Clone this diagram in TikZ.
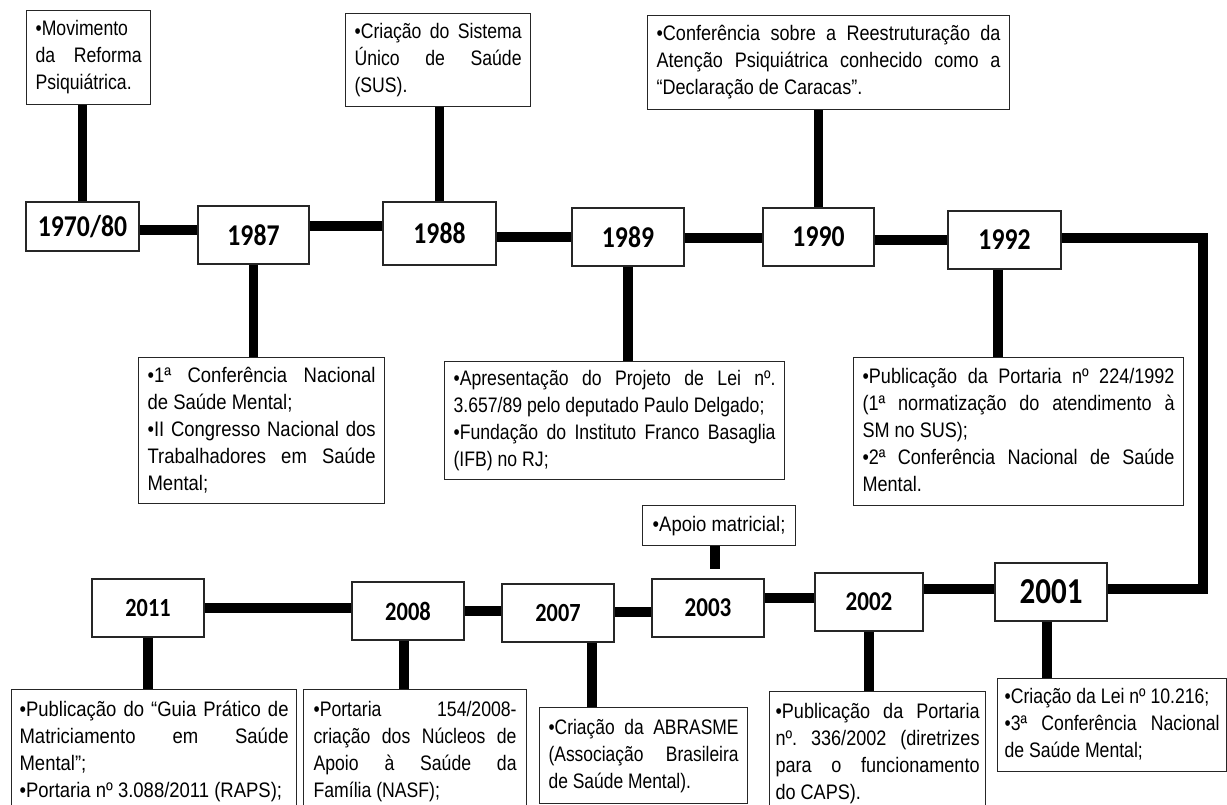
\documentclass[tikz,border=0pt]{standalone}
\usepackage{fontspec}
\setmainfont{Liberation Sans}
\newfontfamily\fa{Liberation Sans}[FakeStretch=0.83]
\newfontfamily\fb{Liberation Sans}[FakeStretch=0.84]
\newfontfamily\fc{Liberation Sans}[FakeStretch=0.86]
\newfontfamily\fd{Liberation Sans}[FakeStretch=0.88]
\newfontfamily\yearfont{Carlito}[FakeStretch=0.85]
\setlength{\parindent}{0pt}
\frenchspacing
\newcommand\tsz{\fontsize{21pt}{27pt}\selectfont}
% justified line (full width) and free line
\newcommand\J[1]{\hbox to \hsize{\spaceskip=\fontdimen2\font plus 1fil\relax\xspaceskip=\spaceskip\strut#1}}
\newcommand\lastl[1]{\hbox{\strut#1}}
\tikzset{
  tbox/.style={draw=black!85, line width=1.2pt, fill=white, anchor=north west, inner ysep=0pt},
  ybox/.style={draw=black!85, line width=1.3pt, fill=white, inner sep=0pt, minimum width=112pt, minimum height=58pt},
  ytop/.style={font=\yearfont\bfseries\fontsize{30.2pt}{32pt}\selectfont},
  conn/.style={line width=9.5pt, draw=black},
}
\begin{document}
\begin{tikzpicture}[x=1pt,y=-1pt]
\fill[white] (0,0) rectangle (1227,805);
\useasboundingbox (0,0) rectangle (1227,805);
\clip (0,0) rectangle (1227,805);

% year boxes, top row
\node[ybox, ytop, minimum width=113pt, minimum height=49pt] (y70) at (82.5,226.5) {1970/80};
\node[ybox, ytop, minimum width=111pt] (y87) at (253.5,235) {1987};
\node[ybox, ytop, minimum width=113pt, minimum height=63pt] (y88) at (439.5,233.5) {1988};
\node[ybox, ytop] (y89) at (628,237) {1989};
\node[ybox, ytop, minimum width=111pt] (y90) at (818.5,237) {1990};
\node[ybox, ytop, minimum width=113pt] (y92) at (1004.5,240) {1992};

% year boxes, bottom row
\node[ybox, font=\yearfont\bfseries\fontsize{36.5pt}{38pt}\selectfont] (y01) at (1051,592) {2001};
\node[ybox, minimum width=108pt, font=\yearfont\bfseries\fontsize{27.2pt}{29pt}\selectfont] (y02) at (869,602) {2002};
\node[ybox, font=\yearfont\bfseries\fontsize{27.2pt}{29pt}\selectfont] (y03) at (708,608) {2003};
\node[ybox, font=\yearfont\bfseries\fontsize{26.2pt}{28pt}\selectfont] (y07) at (558,613) {2007};
\node[ybox, font=\yearfont\bfseries\fontsize{26.5pt}{28pt}\selectfont] (y08) at (408,611) {2008};
\node[ybox, font=\yearfont\bfseries\fontsize{26.2pt}{28pt}\selectfont] (y11) at (148,608) {2011};

% text boxes
\node[tbox, inner xsep=9pt, minimum height=94pt, font=\fb\tsz] (t1) at (26,10)
  {\parbox{106pt}{\lastl{•Movimento}\J{da Reforma}\lastl{Psiquiátrica.}}};
\node[tbox, inner xsep=9pt, minimum height=93pt, font=\fb\tsz] (t2) at (345,13)
  {\parbox{167pt}{\J{•Criação do Sistema}\J{Único de Saúde}\lastl{(SUS).}}};
\node[tbox, inner xsep=9pt, minimum height=94pt, font=\fc\tsz] (t3) at (647,15)
  {\parbox{344pt}{\J{•Conferência sobre a Reestruturação da}\J{Atenção Psiquiátrica conhecido como a}\lastl{“Declaração de Caracas”.}}};
\node[tbox, inner xsep=9pt, minimum height=146pt, font=\fd\tsz] (t4) at (138,357)
  {\parbox{228pt}{\J{•1ª Conferência Nacional}\lastl{de Saúde Mental;}\J{•II Congresso Nacional dos}\J{Trabalhadores em Saúde}\lastl{Mental;}}};
\node[tbox, inner xsep=9pt, minimum height=118pt, font=\fb\tsz] (t5) at (444,361)
  {\parbox{322pt}{\J{•Apresentação do Projeto de Lei nº.}\lastl{3.657/89 pelo deputado Paulo Delgado;}\J{•Fundação do Instituto Franco Basaglia}\lastl{(IFB) no RJ;}}};
\node[tbox, inner xsep=9pt, minimum height=148pt, font=\fc\tsz] (t6) at (853,357)
  {\parbox{312pt}{\J{•Publicação da Portaria nº 224/1992}\J{(1ª normatização do atendimento à}\lastl{SM no SUS);}\J{•2ª Conferência Nacional de Saúde}\lastl{Mental.}}};
\node[tbox, inner xsep=8pt, minimum width=153pt, minimum height=40pt, font=\fd\tsz] (t7) at (642,505)
  {\lastl{•Apoio matricial;}};
\node[tbox, inner xsep=8pt, minimum height=124pt, font=\fd\tsz] (t8) at (11,689)
  {\parbox{269pt}{\J{•Publicação do “Guia Prático de}\J{Matriciamento em Saúde}\lastl{Mental”;}\lastl{•Portaria nº 3.088/2011 (RAPS);}}};
\node[tbox, inner xsep=10pt, minimum height=124pt, font=\fb\tsz] (t9) at (303,689)
  {\parbox{203pt}{\J{•Portaria 154/2008-}\J{criação dos Núcleos de}\J{Apoio à Saúde da}\lastl{Família (NASF);}}};
\node[tbox, inner xsep=9pt, minimum height=96pt, font=\fa\tsz] (t10) at (539,707)
  {\parbox{190pt}{\J{•Criação da ABRASME}\J{(Associação Brasileira}\lastl{de Saúde Mental).}}};
\node[tbox, inner xsep=6pt, minimum height=124pt, font=\fc\tsz] (t11) at (769,691)
  {\parbox{204pt}{\J{•Publicação da Portaria}\J{nº. 336/2002 (diretrizes}\J{para o funcionamento}\lastl{do CAPS).}}};
\node[tbox, inner xsep=7pt, minimum height=93pt, font=\fb\tsz] (t12) at (997,678)
  {\parbox{215pt}{\lastl{•Criação da Lei nº 10.216;}\J{•3ª Conferência Nacional}\lastl{de Saúde Mental;}}};

% horizontal timeline connectors
\draw[conn] (y70.east |- 0,230) -- (y87.west |- 0,230);
\draw[conn] (y87.east |- 0,226) -- (y88.west |- 0,226);
\draw[conn] (y88.east |- 0,237) -- (y89.west |- 0,237);
\draw[conn] (y89.east |- 0,238) -- (y90.west |- 0,238);
\draw[conn] (y90.east |- 0,240) -- (y92.west |- 0,240);
\coordinate (c1) at (1203,238);
\coordinate (c2) at (1203,589);
\draw[conn] (y92.east |- c1) -- (c1) -- (c2) -- (y01.east |- c2);
\draw[conn] (y01.west |- 0,589) -- (y02.east |- 0,589);
\draw[conn] (y02.west |- 0,598) -- (y03.east |- 0,598);
\draw[conn] (y03.west |- 0,612) -- (y07.east |- 0,612);
\draw[conn] (y07.west |- 0,611) -- (y08.east |- 0,611);
\draw[conn] (y08.west |- 0,608) -- (y11.east |- 0,608);

% vertical connectors to text boxes
\draw[conn] (t1.south -| y70.north) -- (y70.north);
\draw[conn] (t2.south -| y88.north) -- (y88.north);
\draw[conn] (t3.south -| y90.north) -- (y90.north);
\draw[conn] (y87.south) -- (y87.south |- t4.north);
\draw[conn] (y89.south) -- (y89.south |- t5.north);
\coordinate (a92) at ([xshift=-6.5pt]y92.south);
\draw[conn] (a92) -- (a92 |- t6.north);
\coordinate (a03) at ([xshift=7pt]y03.north);
\draw[conn, shorten >=9pt] (a03 |- t7.south) -- (a03);
\draw[conn] (y11.south) -- (y11.south |- t8.north);
\coordinate (a08) at ([xshift=-4pt]y08.south);
\draw[conn] (a08) -- (a08 |- t9.north);
\coordinate (a07) at ([xshift=34pt]y07.south);
\draw[conn] (a07) -- (a07 |- t10.north);
\draw[conn] (y02.south) -- (y02.south |- t11.north);
\coordinate (a01) at ([xshift=-4pt]y01.south);
\draw[conn] (a01) -- (a01 |- t12.north);
\end{tikzpicture}
\end{document}
